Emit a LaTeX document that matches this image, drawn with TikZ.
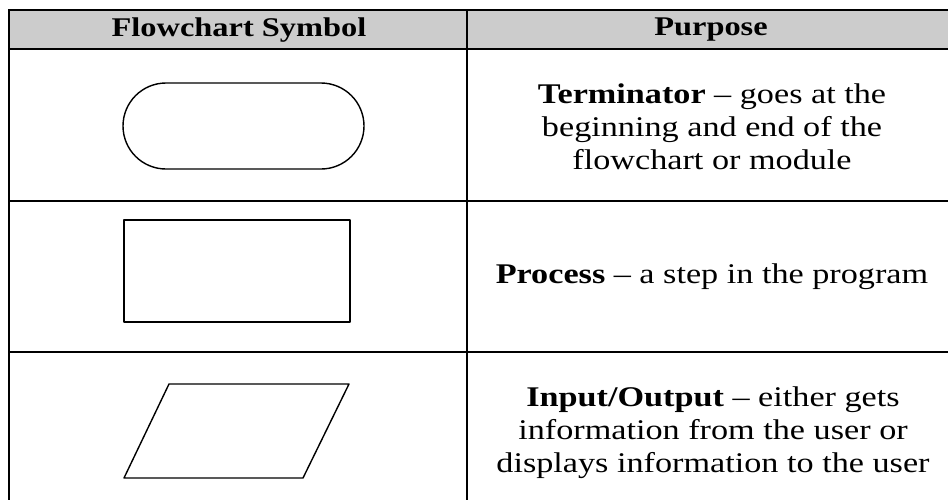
\documentclass[tikz,border=0pt]{standalone}
\usepackage{fontspec}
\setmainfont[FakeStretch=1.2]{Liberation Serif}
\definecolor{headgray}{RGB}{204,204,204}
\begin{document}
\begin{tikzpicture}[x=1pt,y=-1pt,
  rule/.style={line width=2pt},
  symline/.style={line width=1.4pt, line join=round},
  head/.style={font=\fontsize{27}{30}\selectfont\bfseries, inner sep=0pt},
  body/.style={font=\fontsize{28.5}{33}\selectfont, align=center, inner sep=0pt}]
\useasboundingbox (0,0) rectangle (948,499);

% header band
\fill[headgray] (9,10) rectangle (960,49);

% table rules
\draw[rule] (960,10) -- (9,10) -- (9,510);
\draw[rule] (9,49) -- (960,49);
\draw[rule] (9,201) -- (960,201);
\draw[rule] (9,352) -- (960,352);
\draw[rule] (467,10) -- (467,510);

% header labels
\node[head] (hsym) at (239,30) {Flowchart Symbol};
\node[head] (hpur) at (711,30) {Purpose};

% symbols
\draw[symline, rounded corners=43pt] (123,83) rectangle (364,169);
\draw[symline] (124,220) rectangle (350,322);
\draw[symline] (169,384) -- (349,384) -- (303,478) -- (124,478) -- cycle;

% descriptions
\node[body] (dterm) at (712,127) {\textbf{Terminator} – goes at the\\beginning and end of the\\flowchart or module};
\node[body] (dproc) at (712,277) {\textbf{Process} – a step in the program};
\node[body] (dio) at (713,433) {\textbf{Input/Output} – either gets\\information from the user or\\displays information to the user};
\end{tikzpicture}
\end{document}
